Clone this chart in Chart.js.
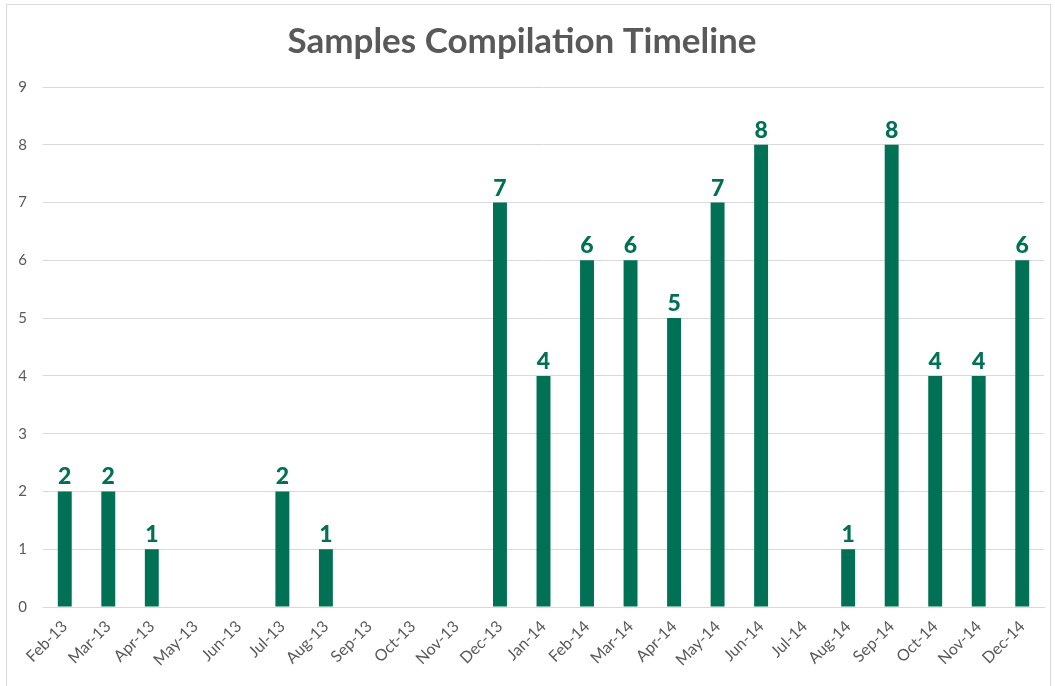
<!DOCTYPE html>
<html>
<head>
<meta charset="utf-8">
<script src="https://cdn.jsdelivr.net/npm/chart.js@4"></script>
<style>
  html, body { margin: 0; padding: 0; background: #fff; overflow: hidden; }
  #frame { position: absolute; left: 6px; top: 4px; width: 1043px; height: 700px; border: 1px solid #d9d9d9; }
  #wrap { position: absolute; left: 0; top: 0; width: 1055px; height: 686px; }
</style>
</head>
<body>
<div id="frame"></div>
<div id="wrap"><canvas id="chart"></canvas></div>
<script>
// months on the x axis
const months = ['Feb-13', 'Mar-13', 'Apr-13', 'May-13', 'Jun-13', 'Jul-13', 'Aug-13', 'Sep-13',
  'Oct-13', 'Nov-13', 'Dec-13', 'Jan-14', 'Feb-14', 'Mar-14', 'Apr-14', 'May-14', 'Jun-14',
  'Jul-14', 'Aug-14', 'Sep-14', 'Oct-14', 'Nov-14', 'Dec-14'];
// samples per month (null = nothing compiled)
const samples = [2, 2, 1, null, null, 2, 1, null, null, null, 7, 4, 6, 6, 5, 7, 8, null, 1, 8, 4, 4, 6];
const yTicks = [0, 1, 2, 3, 4, 5, 6, 7, 8, 9];

const green = '#007155';
const gray = '#595959';

// value labels above the bars
const barLabels = {
  id: 'barLabels',
  afterDatasetsDraw(chart) {
    const ctx = chart.ctx;
    const meta = chart.getDatasetMeta(0);
    ctx.save();
    ctx.fillStyle = green;
    ctx.font = '900 23px Lato';
    ctx.textAlign = 'center';
    ctx.textBaseline = 'alphabetic';
    meta.data.forEach((bar, i) => {
      const v = samples[i];
      if (v == null) return;
      ctx.fillText(String(v), bar.x, bar.y - 7);
    });
    ctx.restore();
  }
};

new Chart(document.getElementById('chart'), {
  type: 'bar',
  data: {
    labels: months,
    datasets: [{
      data: samples,
      backgroundColor: green,
      categoryPercentage: 1,
      barPercentage: 0.32
    }]
  },
  options: {
    responsive: true,
    maintainAspectRatio: false,
    animation: false,
    layout: { padding: { left: 0, right: 11, top: 0, bottom: 0 } },
    plugins: {
      legend: { display: false },
      tooltip: { enabled: false },
      title: {
        display: true,
        text: 'Samples Compilation Timeline',
        color: gray,
        font: { family: 'Lato', size: 35, weight: 'bold' },
        padding: { top: 21, bottom: 24 }
      }
    },
    scales: {
      x: {
        grid: { display: false, drawTicks: false },
        border: { color: '#d9d9d9' },
        ticks: {
          color: gray,
          font: { family: 'Lato', size: 16 },
          minRotation: 45,
          maxRotation: 45,
          autoSkip: false,
          padding: 10
        },
        afterFit(scale) { scale.height = 79; }
      },
      y: {
        min: 0,
        max: 9,
        afterBuildTicks(scale) { scale.ticks = yTicks.map(v => ({ value: v })); },
        grid: { color: '#d9d9d9', drawTicks: false },
        border: { display: false },
        ticks: {
          color: gray,
          font: { family: 'Lato', size: 15 },
          padding: 16
        },
        afterFit(scale) { scale.width = 43; }
      }
    }
  },
  plugins: [barLabels]
});
</script>
</body>
</html>
